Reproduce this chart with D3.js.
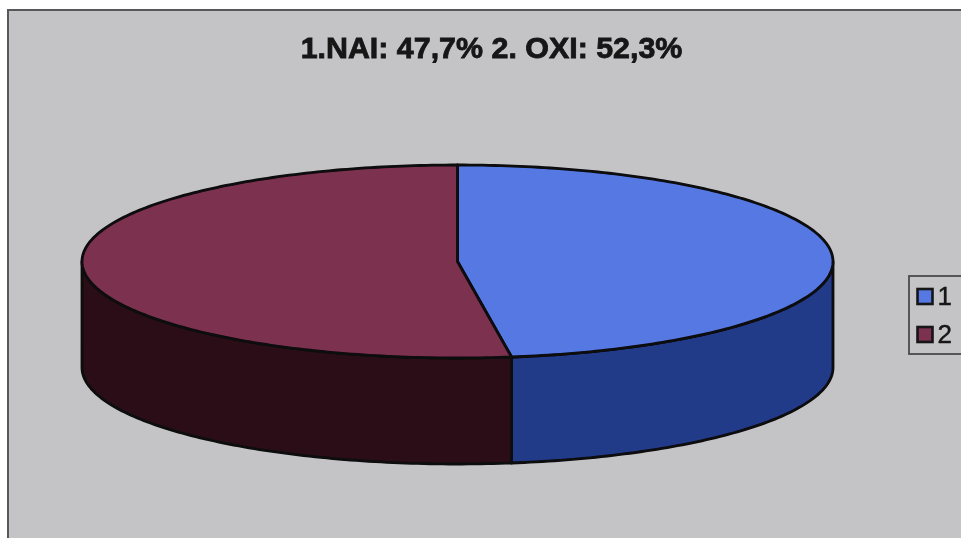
<!DOCTYPE html>
<html><head><meta charset="utf-8">
<script src="https://cdn.jsdelivr.net/npm/d3@7/dist/d3.min.js"></script>
<style>html,body{margin:0;padding:0;background:#fff}svg{display:block}</style>
</head><body><svg id="c" width="961" height="538"></svg>
<script>
const categories = ["1", "2"];
const values = [47.7, 52.3];
const topColors = ["#5578e2", "#7c3050"];
const sideColors = ["#243a88", "#2b1016"];
const titleText = "1.NAI: 47,7% 2. OXI: 52,3%";

const svg = d3.select("#c");
svg.append("defs").append("filter").attr("id","soft").attr("x",0).attr("y",0).attr("width","100%").attr("height","100%")
  .append("feGaussianBlur").attr("stdDeviation",0.55);
const g = svg.append("g").attr("filter","url(#soft)");
g.append("rect").attr("x",0).attr("y",0).attr("width",961).attr("height",538).attr("fill","#fff");
g.append("rect").attr("x",8).attr("y",10).attr("width",960).attr("height",540)
  .attr("fill","#c4c4c6").attr("stroke","#58585a").attr("stroke-width",2);
g.append("text").attr("x",491.5).attr("y",57.5).attr("text-anchor","middle")
  .attr("font-family","Liberation Sans").attr("font-weight","700").attr("font-size",30.4)
  .attr("fill","#141414").attr("stroke","#141414").attr("stroke-width",0.8).text(titleText);

const cx=457.5, cy=261.5, rx=375.5, ry=96.5, depth=106;
const pie = d3.pie().sort(null).value(d=>d);
const arcs = pie(values);
const xS = d3.scaleLinear().domain([-1,1]).range([cx-rx,cx+rx]);
const yS = d3.scaleLinear().domain([-1,1]).range([cy-ry,cy+ry]);
const pt = (a,dy=0)=>[xS(Math.sin(a)), yS(-Math.cos(a))+dy];
const line = d3.line();
const sample = (a0,a1,dy=0)=>{const n=Math.ceil(Math.abs(a1-a0)*60);
  return d3.range(n+1).map(i=>pt(a0+(a1-a0)*i/n,dy));};
const stroke = {stroke:"#08080c",w:2.8};

// side walls: only the part of the rim facing the viewer (angles 90deg to 270deg)
arcs.forEach((d,i)=>{
  const a0=Math.max(d.startAngle,Math.PI/2), a1=Math.min(d.endAngle,Math.PI*1.5);
  if(a1<=a0) return;
  const outline=[...sample(a0,a1,0),...sample(a1,a0,depth)];
  g.append("path").attr("d",line(outline)+"Z").attr("fill",sideColors[i])
    .attr("stroke",stroke.stroke).attr("stroke-width",stroke.w).attr("stroke-linejoin","round");
});
// top slices
arcs.forEach((d,i)=>{
  const outline=[[cx,cy],...sample(d.startAngle,d.endAngle,0)];
  g.append("path").attr("d",line(outline)+"Z").attr("fill",topColors[i])
    .attr("stroke",stroke.stroke).attr("stroke-width",stroke.w).attr("stroke-linejoin","round");
});
// legend
g.append("rect").attr("x",909).attr("y",276).attr("width",70).attr("height",78)
  .attr("fill","#c4c4c6").attr("stroke","#4a4a4c").attr("stroke-width",1.8);
const ly=d3.scalePoint().domain(categories).range([296.5,334.5]);
categories.forEach((c,i)=>{
  g.append("rect").attr("x",917.5).attr("y",ly(c)-7.5).attr("width",15).attr("height",15)
    .attr("fill",topColors[i]).attr("stroke","#141418").attr("stroke-width",2.6);
  g.append("text").attr("x",937.5).attr("y",ly(c)+8.5).attr("font-family","Liberation Sans")
    .attr("font-size",26).attr("fill","#141414").attr("stroke","#141414").attr("stroke-width",0.4).text(c);
});
</script></body></html>
